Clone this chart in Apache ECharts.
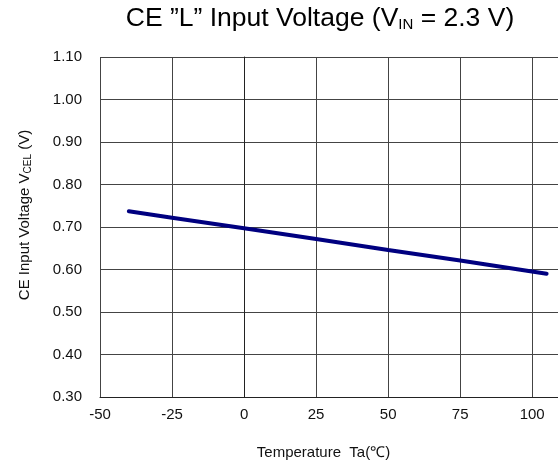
<!DOCTYPE html>
<html><head><meta charset="utf-8">
<script src="https://cdn.jsdelivr.net/npm/echarts@6/dist/echarts.min.js"></script>
<style>html,body{margin:0;padding:0;background:#fff}#c{width:558px;height:468px}</style>
</head><body><div id="c"></div>
<script>
const temperature = [-40, -25, 0, 25, 50, 75, 105];
const voltage = [0.737, 0.722, 0.697, 0.672, 0.646, 0.621, 0.590];
const xTicks = [-50, -25, 0, 25, 50, 75, 100];
const yTicks = [0.30, 0.40, 0.50, 0.60, 0.70, 0.80, 0.90, 1.00, 1.10];

const chart = echarts.init(document.getElementById('c'), null, {renderer: 'canvas'});
const font = 'Liberation Sans, Arial, sans-serif';
chart.setOption({
  animation: false,
  title: {
    text: 'CE ”L” Input Voltage (V{s|IN} = 2.3 V)',
    left: 315, top: 0, textAlign: 'center',
    textStyle: {
      fontFamily: font, fontSize: 26.5, fontWeight: 'normal', color: '#000',
      rich: { s: {fontFamily: font, fontSize: 15, color: '#000', verticalAlign: 'bottom', padding: [12,0,0,0]} }
    }
  },
  grid: {left: 100, top: 57, width: 461, height: 340, containLabel: false, outerBoundsMode: 'none'},
  xAxis: {
    type: 'value', min: -50, max: 110, interval: 25,
    axisLine: {show: true, onZero: false, lineStyle: {color: '#222', width: 1}},
    axisTick: {show: false},
    splitLine: {show: true, lineStyle: {color: '#444', width: 1}},
    axisLabel: {
      margin: 10, fontFamily: font, fontSize: 15, color: '#111',
      formatter: v => xTicks.includes(v) ? String(v) : ''
    },
    name: 'Temperature  Ta(℃)', nameLocation: 'middle', nameGap: 48,
    nameTextStyle: {fontFamily: font, fontSize: 15, color: '#111', padding: [0, 14, 0, 0]}
  },
  yAxis: {
    type: 'value', min: 0.3, max: 1.1, interval: 0.1,
    axisLine: {show: true, lineStyle: {color: '#222', width: 1}},
    axisTick: {show: false},
    splitLine: {show: true, lineStyle: {color: '#444', width: 1}},
    axisLabel: {
      margin: 18, fontFamily: font, fontSize: 15, color: '#111',
      formatter: v => yTicks.some(t => Math.abs(t - v) < 1e-6) ? v.toFixed(2) : ''
    },
    name: 'CE Input Voltage V{s|CEL} (V)', nameLocation: 'middle', nameGap: 67,
    nameTextStyle: {
      fontFamily: font, fontSize: 15, color: '#111', padding: [0, 0, 0, 24],
      rich: {s: {fontFamily: font, fontSize: 10, color: '#111', verticalAlign: 'bottom', padding: [7,0,0,0]}}
    }
  },
  series: [{
    type: 'line', data: temperature.map((t, i) => [t, voltage[i]]),
    showSymbol: false, smooth: false,
    lineStyle: {color: '#000080', width: 4, cap: 'round'}
  }]
});
</script></body></html>
